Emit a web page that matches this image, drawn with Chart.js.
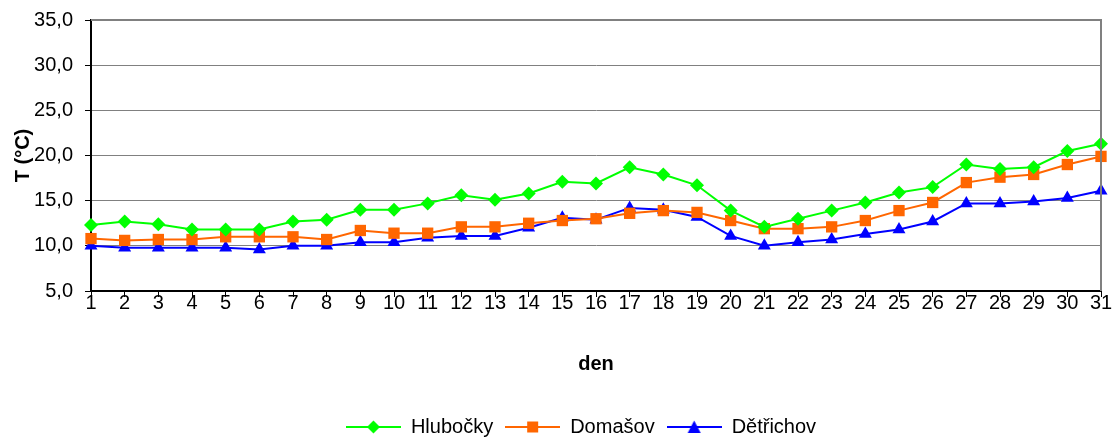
<!DOCTYPE html>
<html>
<head>
<meta charset="utf-8">
<script src="https://cdn.jsdelivr.net/npm/chart.js@4"></script>
<style>
    html, body { margin: 0; padding: 0; background: #fff; }
    #wrap { width: 1117px; height: 437px; }
</style>
</head>
<body>
<div id="wrap"><canvas id="graf"></canvas></div>
<script>
// Denní teploty - tři stanice
const DNY = ['1','2','3','4','5','6','7','8','9','10','11','12','13','14','15','16',
    '17','18','19','20','21','22','23','24','25','26','27','28','29','30','31'];

const HLUBOCKY = [12.3, 12.7, 12.4, 11.8, 11.8, 11.8, 12.7, 12.9, 14.0, 14.0, 14.7, 15.6, 15.1, 15.8, 17.1, 16.9,
    18.7, 17.9, 16.7, 13.9, 12.1, 13.0, 13.9, 14.8, 15.9, 16.5, 19.0, 18.5, 18.7, 20.5, 21.3];
const DOMASOV = [10.8, 10.6, 10.7, 10.7, 11.0, 11.0, 11.0, 10.7, 11.7, 11.4, 11.4, 12.1, 12.1, 12.5, 12.8, 13.0,
    13.6, 13.9, 13.7, 12.8, 11.9, 11.9, 12.1, 12.8, 13.9, 14.8, 17.0, 17.6, 17.9, 19.0, 19.9];
const DETRICHOV = [10.0, 9.8, 9.8, 9.8, 9.8, 9.6, 10.0, 10.0, 10.4, 10.4, 10.9, 11.1, 11.1, 12.0, 13.1, 12.9,
    14.2, 14.0, 13.2, 11.1, 10.0, 10.4, 10.7, 11.3, 11.8, 12.7, 14.7, 14.7, 14.9, 15.3, 16.1];

const Y_MIN = 5;
const Y_MAX = 35;
const Y_KROK = 5;

const FONT = 'Arial, "Liberation Sans", sans-serif';

// ikonka do legendy: čára se značkou uprostřed
function ikonaLegendy(barva, styl) {
    const c = document.createElement('canvas');
    c.width = 55;
    c.height = 16;
    const g = c.getContext('2d');
    g.strokeStyle = barva;
    g.lineWidth = 2;
    g.beginPath();
    g.moveTo(0, 8);
    g.lineTo(55, 8);
    g.stroke();
    g.fillStyle = barva;
    g.beginPath();
    if (styl === 'rectRot') {
        g.moveTo(27.5, 1.5); g.lineTo(34, 8); g.lineTo(27.5, 14.5); g.lineTo(21, 8);
    } else if (styl === 'rect') {
        g.rect(22, 2.5, 11, 11);
    } else {
        g.moveTo(27.5, 1.5); g.lineTo(34, 14); g.lineTo(21, 14);
    }
    g.closePath();
    g.fill();
    return c;
}

const ramecek = {
    id: 'ramecek',
    afterLayout(chart) {
        // legenda je v originále trochu vlevo od středu grafu
        const lg = chart.legend;
        if (lg) { lg.left -= 15; lg.right -= 15; }
    },
    afterDatasetsDraw(chart) {
        const { ctx, chartArea: a } = chart;
        ctx.save();
        ctx.strokeStyle = '#808080';
        ctx.lineWidth = 2;
        ctx.beginPath();
        ctx.moveTo(a.left, a.top);
        ctx.lineTo(a.right, a.top);
        ctx.lineTo(a.right, a.bottom);
        ctx.stroke();
        ctx.restore();
    }
};

function rada(nazev, data, barva, styl, polomer) {
    return {
        label: nazev,
        data: data,
        borderColor: barva,
        backgroundColor: barva,
        borderWidth: 2,
        pointStyle: styl,
        pointRadius: polomer,
        pointHoverRadius: polomer,
        pointBorderWidth: 0,
        tension: 0,
        ikona: ikonaLegendy(barva, styl)
    };
}

Chart.defaults.font.family = FONT;
Chart.defaults.color = '#000';

new Chart(document.getElementById('graf'), {
    type: 'line',
    data: {
        labels: DNY,
        datasets: [
            rada('Hlubočky', HLUBOCKY, '#00ff00', 'rectRot', 7),
            rada('Domašov', DOMASOV, '#ff6600', 'rect', 8),
            rada('Dětřichov', DETRICHOV, '#0000ff', 'triangle', 7.5)
        ]
    },
    options: {
        responsive: true,
        maintainAspectRatio: false,
        animation: false,
        layout: { padding: { top: 20, right: 16, bottom: -10, left: 0 } },
        plugins: {
            tooltip: { enabled: false },
            legend: {
                position: 'bottom',
                fullSize: false,
                labels: {
                    font: { size: 20 },
                    color: '#000',
                    usePointStyle: true,
                    pointStyleWidth: 55,
                    padding: 12,
                    generateLabels: chart => chart.data.datasets.map((ds, i) => ({
                        text: ds.label,
                        pointStyle: ds.ikona,
                        fillStyle: ds.borderColor,
                        strokeStyle: ds.borderColor,
                        lineWidth: 0,
                        datasetIndex: i
                    }))
                }
            }
        },
        scales: {
            x: {
                offset: false,
                grid: { drawOnChartArea: false, drawTicks: true, tickLength: 6, color: '#000' },
                border: { color: '#000', width: 2 },
                ticks: { font: { size: 20 }, padding: -6, maxRotation: 0, autoSkip: false },
                title: { display: true, text: 'den', font: { size: 20, weight: 'bold' }, padding: { top: 0, bottom: 29 } },
                afterFit: s => { s.height = 114; }
            },
            y: {
                min: Y_MIN,
                max: Y_MAX,
                grid: { color: '#808080', lineWidth: 1, tickLength: 6, tickColor: '#000' },
                border: { color: '#000', width: 2 },
                ticks: {
                    stepSize: Y_KROK,
                    font: { size: 20 },
                    padding: 12,
                    callback: v => v.toFixed(1).replace('.', ',')
                },
                title: { display: true, text: 'T (°C)', font: { size: 20, weight: 'bold' }, padding: { top: 11, bottom: 0 } },
                afterFit: s => {
                    s.width = 91;
                    s.paddingTop = 0;
                    s.paddingBottom = 0;
                }
            }
        }
    },
    plugins: [ramecek]
});
</script>
</body>
</html>
